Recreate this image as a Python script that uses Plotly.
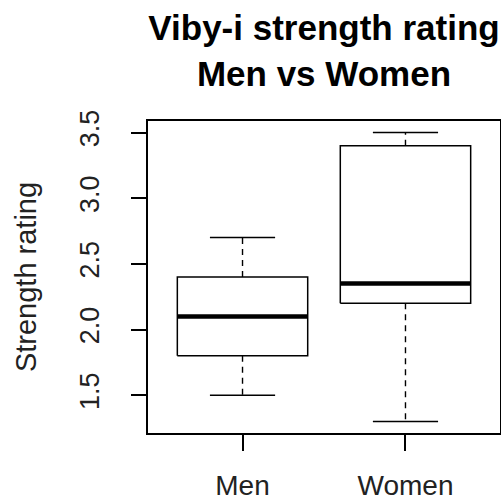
import plotly.graph_objects as go

groups = ["Men", "Women"]
lower = [1.5, 1.3]
q1 = [1.8, 2.2]
median = [2.1, 2.35]
q3 = [2.4, 3.4]
upper = [2.7, 3.5]
y_ticks = [1.5, 2.0, 2.5, 3.0, 3.5]

FONT = "Arial, Liberation Sans, sans-serif"
half_box = 0.4
half_cap = 0.2

fig = go.Figure()
for i, g in enumerate(groups, start=1):
    # whiskers (dashed)
    fig.add_trace(go.Scatter(
        x=[i, i, None, i, i], y=[q3[i - 1], upper[i - 1], None, q1[i - 1], lower[i - 1]],
        mode="lines", line=dict(color="black", width=1.4, dash="6px,5px"),
        hoverinfo="skip", showlegend=False))
    # staples
    fig.add_trace(go.Scatter(
        x=[i - half_cap, i + half_cap, None, i - half_cap, i + half_cap],
        y=[upper[i - 1], upper[i - 1], None, lower[i - 1], lower[i - 1]],
        mode="lines", line=dict(color="black", width=1.5),
        hoverinfo="skip", showlegend=False))
    # box
    fig.add_trace(go.Scatter(
        x=[i - half_box, i + half_box, i + half_box, i - half_box, i - half_box],
        y=[q1[i - 1], q1[i - 1], q3[i - 1], q3[i - 1], q1[i - 1]],
        mode="lines", line=dict(color="black", width=1.5),
        fill="toself", fillcolor="white",
        name=g, showlegend=False))
    # median
    fig.add_trace(go.Scatter(
        x=[i - half_box, i + half_box], y=[median[i - 1], median[i - 1]],
        mode="lines", line=dict(color="black", width=4.5),
        hoverinfo="skip", showlegend=False))

fig.update_layout(
    width=501,
    height=502,
    margin=dict(l=148, r=1, t=121, b=69),
    paper_bgcolor="white",
    plot_bgcolor="white",
    font=dict(family=FONT, color="black", size=27),
    title=dict(
        text="<b>Viby-i strength rating<br>Men vs Women</b>",
        font=dict(family=FONT, size=35, color="black"),
        x=0.5, xref="paper", xanchor="center",
        y=0.92, yref="container", yanchor="top",
    ),
)
fig.update_xaxes(
    range=[0.42, 2.58], automargin=False,
    tickvals=[1, 2], ticktext=groups,
    showgrid=False, zeroline=False,
    showline=True, mirror=True, linecolor="black", linewidth=1.5,
    ticks="outside", ticklen=16, tickwidth=1.5, tickcolor="black",
    ticklabelstandoff=11,
    tickfont=dict(size=28, color="#222"),
)
fig.update_yaxes(
    range=[1.212, 3.588], automargin=False,
    tickvals=y_ticks, tickformat=".1f",
    showgrid=False, zeroline=False,
    showline=True, mirror=True, linecolor="black", linewidth=1.5,
    ticks="outside", ticklen=15, tickwidth=1.5, tickcolor="black",
    tickangle=-90, ticklabelstandoff=21,
    tickfont=dict(size=27, color="#222"),
    title=dict(text="Strength rating", font=dict(size=29, color="#222"), standoff=30),
)

# page body has a default 8px margin; drop it so the figure sits at 0,0
fig.write_html(
    "out.html",
    config={"displayModeBar": False},
    post_script="document.body.style.margin='0';",
)
